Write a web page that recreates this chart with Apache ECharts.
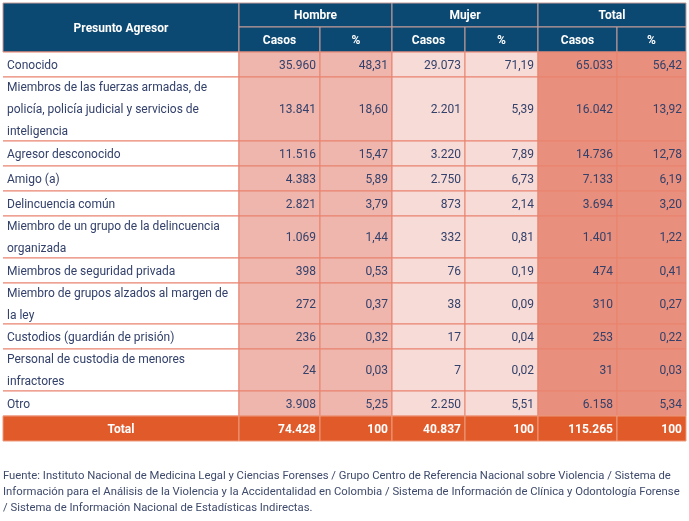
<!DOCTYPE html>
<html>
<head>
<meta charset="utf-8">
<script src="https://cdn.jsdelivr.net/npm/echarts@6/dist/echarts.min.js"></script>
<style>
  html, body { margin: 0; padding: 0; background: #fff; }
  #chart { width: 689px; height: 521px; }
</style>
</head>
<body>
<div id="chart"></div>
<script>
// Data
const categories = [
    'Conocido',
    'Miembros de las fuerzas armadas, de\npolicía, policía judicial y servicios de\ninteligencia',
    'Agresor desconocido',
    'Amigo (a)',
    'Delincuencia común',
    'Miembro de un grupo de la delincuencia\norganizada',
    'Miembros de seguridad privada',
    'Miembro de grupos alzados al margen de\nla ley',
    'Custodios (guardián de prisión)',
    'Personal de custodia de menores\ninfractores',
    'Otro'
];
const hombreCasos = [35960, 13841, 11516, 4383, 2821, 1069, 398, 272, 236, 24, 3908];
const hombrePct = [48.31, 18.60, 15.47, 5.89, 3.79, 1.44, 0.53, 0.37, 0.32, 0.03, 5.25];
const mujerCasos = [29073, 2201, 3220, 2750, 873, 332, 76, 38, 17, 7, 2250];
const mujerPct = [71.19, 5.39, 7.89, 6.73, 2.14, 0.81, 0.19, 0.09, 0.04, 0.02, 5.51];
const totalCasos = [65033, 16042, 14736, 7133, 3694, 1401, 474, 310, 253, 31, 6158];
const totalPct = [56.42, 13.92, 12.78, 6.19, 3.20, 1.22, 0.41, 0.27, 0.22, 0.03, 5.34];
const totalRow = [74428, 100, 40837, 100, 115265, 100];
const groupLabels = ['Hombre', 'Mujer', 'Total'];
const subLabels = ['Casos', '%'];
const firstHeader = 'Presunto Agresor';
const totalLabel = 'Total';
const sourceText = 'Fuente: Instituto Nacional de Medicina Legal y Ciencias Forenses / Grupo Centro de Referencia Nacional sobre Violencia / Sistema de\n' +
    'Información para el Análisis de la Violencia y la Accidentalidad en Colombia / Sistema de Información de Clínica y Odontología Forense\n' +
    '/ Sistema de Información Nacional de Estadísticas Indirectas.';

// Layout (pixels)
const colEdges = [3, 239, 320, 392, 465, 538, 617, 686];
const headerHeights = [24, 25];
const rowHeights = [25, 64, 25, 25, 25, 42, 25, 41, 25, 42, 25];
const totalHeight = 25;
const top0 = 3;

const fmtCasos = v => String(v).replace(/\B(?=(\d{3})+(?!\d))/g, '.');
const fmtPct = v => v === 100 ? '100' : v.toFixed(2).replace('.', ',');

// row edges
const rowEdges = [top0];
headerHeights.concat(rowHeights, [totalHeight]).forEach(h => rowEdges.push(rowEdges[rowEdges.length - 1] + h));

const C = {
    header: '#0b4872',
    headerLine: '#c79c98',
    hombre: '#efb6ad',
    mujer: '#f7dbd7',
    total: '#e88f7d',
    totalRow: '#e05a2a',
    line: '#e9826e',
    text: '#33416b'
};

// cells: [x0, y0, x1, y1], meta kept in parallel list
const cells = [];
const meta = [];
function addCell(c0, c1, r0, r1, text, kind, align) {
    cells.push([colEdges[c0], rowEdges[r0], colEdges[c1], rowEdges[r1]]);
    meta.push({ text, kind, align });
}

addCell(0, 1, 0, 2, firstHeader, 'head', 'center');
groupLabels.forEach((g, i) => {
    addCell(1 + i * 2, 3 + i * 2, 0, 1, g, 'head', 'center');
    subLabels.forEach((s, j) => addCell(1 + i * 2 + j, 2 + i * 2 + j, 1, 2, s, 'head', 'center'));
});
const bodyCols = [hombreCasos, hombrePct, mujerCasos, mujerPct, totalCasos, totalPct];
const bodyKinds = ['hombre', 'hombre', 'mujer', 'mujer', 'total', 'total'];
categories.forEach((cat, r) => {
    addCell(0, 1, r + 2, r + 3, cat, 'label', 'left');
    bodyCols.forEach((col, c) => {
        const txt = c % 2 === 0 ? fmtCasos(col[r]) : fmtPct(col[r]);
        addCell(c + 1, c + 2, r + 2, r + 3, txt, bodyKinds[c], 'right');
    });
});
const lastR = categories.length + 2;
addCell(0, 1, lastR, lastR + 1, totalLabel, 'totalRow', 'center');
totalRow.forEach((v, c) => {
    addCell(c + 1, c + 2, lastR, lastR + 1, c % 2 === 0 ? fmtCasos(v) : fmtPct(v), 'totalRow', 'right');
});

function renderItem(params, api) {
    const p0 = api.coord([api.value(0), api.value(1)]);
    const p1 = api.coord([api.value(2), api.value(3)]);
    const m = meta[params.dataIndex];
    const x = p0[0], y = p0[1], w = p1[0] - p0[0], h = p1[1] - p0[1];
    const children = [];
    let fill, stroke, color, weight;
    if (m.kind === 'head') {
        fill = C.header; stroke = C.headerLine; color = '#fff'; weight = 'bold';
    } else if (m.kind === 'totalRow') {
        fill = C.totalRow; stroke = '#ee9a7c'; color = '#fff'; weight = 'bold';
    } else if (m.kind === 'label') {
        fill = '#fff'; stroke = null; color = C.text; weight = 'normal';
    } else {
        fill = C[m.kind]; stroke = C.line; color = C.text; weight = 'normal';
    }
    children.push({
        type: 'rect',
        shape: { x, y, width: w, height: h },
        style: { fill, stroke: stroke || 'none', lineWidth: 1 }
    });
    if (m.kind === 'label') {
        children.push({
            type: 'polyline',
            shape: { points: [[x, y], [x + w, y], [x + w, y + h], [x, y + h]] },
            style: { fill: 'none', stroke: C.line, lineWidth: 1 }
        });
    }
    let tx = x + w / 2;
    if (m.align === 'left') tx = x + 4;
    if (m.align === 'right') tx = x + w - 4;
    children.push({
        type: 'text',
        style: {
            x: tx, y: y + h / 2 + 1,
            text: m.text,
            align: m.align,
            verticalAlign: 'middle',
            fill: color,
            fontFamily: 'Roboto',
            fontSize: 12,
            fontWeight: weight,
            lineHeight: 22
        }
    });
    return { type: 'group', children };
}

const chart = echarts.init(document.getElementById('chart'));
chart.setOption({
    animation: false,
    grid: { left: 0, right: 0, top: 0, bottom: 0 },
    xAxis: { type: 'value', min: 0, max: 689, show: false },
    yAxis: { type: 'value', min: 0, max: 521, inverse: true, show: false },
    graphic: [{
        type: 'text',
        left: 3,
        top: 468,
        style: {
            text: sourceText,
            fill: '#3e4a6c',
            fontFamily: 'Roboto',
            fontSize: 11.3,
            lineHeight: 16
        }
    }],
    series: [{
        type: 'custom',
        renderItem,
        data: cells,
        silent: true
    }]
});
</script>
</body>
</html>
